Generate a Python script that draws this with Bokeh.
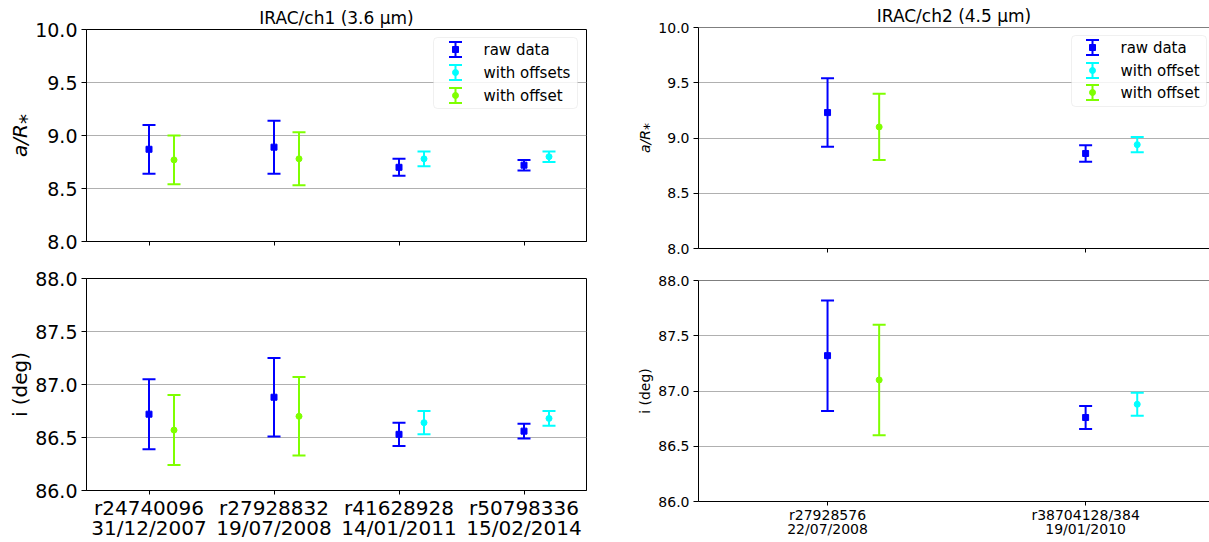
from bokeh.plotting import figure
from bokeh.models import (ColumnDataSource, Whisker, TeeHead, FixedTicker,
                          NumeralTickFormatter, Span, BoxAnnotation, Range1d,
                          Title)
from bokeh.layouts import row, column
from bokeh.embed import file_html
from bokeh.resources import INLINE
from bokeh.core.properties import value

# ---------------- data ----------------
ch1_labels = ["r24740096\n31/12/2007", "r27928832\n19/07/2008",
              "r41628928\n14/01/2011", "r50798336\n15/02/2014"]
ch1_aR_raw = [8.87, 8.89, 8.70, 8.72]
ch1_aR_raw_err = [0.23, 0.25, 0.08, 0.05]
ch1_aR_offset_idx = [0, 1]
ch1_aR_offset = [8.77, 8.78]
ch1_aR_offset_err = [0.23, 0.25]
ch1_aR_offsets_idx = [2, 3]
ch1_aR_offsets = [8.78, 8.80]
ch1_aR_offsets_err = [0.07, 0.05]

ch1_inc_raw = [86.72, 86.88, 86.53, 86.56]
ch1_inc_raw_err = [0.33, 0.37, 0.11, 0.07]
ch1_inc_offset = [86.57, 86.70]
ch1_inc_offset_err = [0.33, 0.37]
ch1_inc_offsets = [86.64, 86.68]
ch1_inc_offsets_err = [0.11, 0.07]

ch2_labels = ["r27928576\n22/07/2008", "r38704128/384\n19/01/2010"]
ch2_aR_raw = [9.23, 8.86]
ch2_aR_raw_err = [0.31, 0.075]
ch2_aR_green_idx = [0]
ch2_aR_green = [9.10]
ch2_aR_green_err = [0.30]
ch2_aR_cyan_idx = [1]
ch2_aR_cyan = [8.94]
ch2_aR_cyan_err = [0.07]

ch2_inc_raw = [87.32, 86.76]
ch2_inc_raw_err = [0.50, 0.105]
ch2_inc_green = [87.10]
ch2_inc_green_err = [0.50]
ch2_inc_cyan = [86.88]
ch2_inc_cyan_err = [0.105]

aR_ticks = [8.0, 8.5, 9.0, 9.5, 10.0]
inc_ticks = [86.0, 86.5, 87.0, 87.5, 88.0]

ch1_title = "IRAC/ch1 (3.6 \u03bcm)"
ch2_title = "IRAC/ch2 (4.5 \u03bcm)"

# ---------------- style ----------------
FONT = "DejaVu Sans"
BLUE = "#0000ff"
CYAN = "#00ffff"
GREEN = "#7fff00"
OFFSET = 0.2

GEOM = {}


def make_fig(width, height, bl, br, bt, bb, xr, yr, yticks, xticks, xlabels,
             tick_fs, label_fs, ylabel, title=None, outline=True,
             show_xlabels=True, xlab_fs="14px", label_standoff=4,
             line_h=0.95, xl_standoff=3):
    kw = {}
    if title:
        kw["title"] = Title(text=title, text_font=FONT, text_font_size="17px",
                            text_font_style="normal", align="center",
                            text_color="black", standoff=3, offset=0)
    p = figure(width=width, height=height, x_range=Range1d(*xr),
               y_range=Range1d(*yr), output_backend="svg",
               toolbar_location=None, min_border_left=bl,
               min_border_right=br, min_border_top=bt, min_border_bottom=bb,
               **kw)
    GEOM[p.id] = dict(bl=bl, bt=bt, fw=width - bl - br, fh=height - bt - bb,
                      xr=xr, yr=yr)
    p.outline_line_color = "black" if outline else None
    p.outline_line_width = 1
    p.xgrid.visible = False
    p.ygrid.ticker = FixedTicker(ticks=yticks)
    p.ygrid.grid_line_color = "#b0b0b0"
    p.ygrid.grid_line_width = 1
    p.background_fill_color = "white"
    p.border_fill_color = "white"

    ya = p.yaxis[0]
    ya.ticker = FixedTicker(ticks=yticks)
    ya.formatter = NumeralTickFormatter(format="0.0")
    ya.major_label_text_font = FONT
    ya.major_label_text_font_size = tick_fs
    ya.major_label_text_color = "black"
    ya.major_label_standoff = 4
    ya.major_tick_in = 0
    ya.major_tick_out = 5
    ya.minor_tick_line_color = None
    ya.axis_line_color = "black"
    ya.major_tick_line_color = "black"
    ya.axis_label = ylabel
    ya.axis_label_text_font = FONT
    ya.axis_label_text_font_size = label_fs
    ya.axis_label_text_font_style = "italic" if ylabel.startswith("a") else "normal"
    ya.axis_label_text_color = "black"
    ya.axis_label_standoff = label_standoff

    xa = p.xaxis[0]
    xa.ticker = FixedTicker(ticks=xticks)
    xa.major_tick_in = 0
    xa.major_tick_out = 4
    xa.minor_tick_line_color = None
    xa.axis_line_color = "black"
    xa.major_tick_line_color = "black"
    if show_xlabels:
        xa.major_label_overrides = {t: l for t, l in zip(xticks, xlabels)}
        xa.major_label_text_font = FONT
        xa.major_label_text_font_size = xlab_fs
        xa.major_label_text_color = "black"
        xa.major_label_text_line_height = line_h
        xa.major_label_standoff = xl_standoff
    else:
        xa.major_label_overrides = {t: "" for t in xticks}
        xa.major_label_text_font_size = "1px"
        xa.major_label_standoff = 0
    if not outline:
        p.add_layout(Span(location=yr[1], dimension="width",
                          line_color="black", line_width=1))
        if not show_xlabels:
            p.add_layout(Span(location=yr[0], dimension="width",
                              line_color="black", line_width=1))
    return p


def px2data(p, sx, sy):
    g = GEOM[p.id]
    x = g["xr"][0] + (sx - g["bl"]) / g["fw"] * (g["xr"][1] - g["xr"][0])
    y = g["yr"][1] - (sy - g["bt"]) / g["fh"] * (g["yr"][1] - g["yr"][0])
    return x, y


def errorbars(p, xs, ys, errs, color, marker, cap=13):
    src = ColumnDataSource(dict(x=xs, y=ys,
                                upper=[y + e for y, e in zip(ys, errs)],
                                lower=[y - e for y, e in zip(ys, errs)]))
    w = Whisker(source=src, base="x", upper="upper", lower="lower",
                dimension="height", line_color=color, line_width=2,
                upper_head=TeeHead(size=cap, line_color=color, line_width=2),
                lower_head=TeeHead(size=cap, line_color=color, line_width=2))
    p.add_layout(w)
    p.scatter("x", "y", source=src, marker=marker, size=6, color=color)


def legend(p, box, rows, gx, tx, entries):
    x0, y0 = px2data(p, box[0], box[1])
    x1, y1 = px2data(p, box[2], box[3])
    b = BoxAnnotation(left=x0, right=x1, top=y0, bottom=y1,
                      fill_color="white", fill_alpha=0.85,
                      line_color="#cccccc", line_width=1, border_radius=4,
                      level="underlay")
    p.add_layout(b)
    for sy, (label, color, marker) in zip(rows, entries):
        gxd, gyd = px2data(p, gx, sy)
        _, top = px2data(p, gx, sy - 7.5)
        _, bot = px2data(p, gx, sy + 7.5)
        src = ColumnDataSource(dict(x=[gxd], y=[gyd], upper=[top], lower=[bot]))
        p.add_layout(Whisker(source=src, base="x", upper="upper", lower="lower",
                             dimension="height", line_color=color, line_width=2,
                             upper_head=TeeHead(size=13, line_color=color, line_width=2),
                             lower_head=TeeHead(size=13, line_color=color, line_width=2)))
        p.scatter("x", "y", source=src, marker=marker, size=6, color=color)
        txd, tyd = px2data(p, tx, sy)
        p.text(x=[txd], y=[tyd], text=[label], text_font=value(FONT),
               text_font_size="15px", text_baseline="middle",
               text_align="left", text_color="black")


ch1_x = list(range(len(ch1_labels)))
ch2_x = list(range(len(ch2_labels)))

# ---------------- ch1 ----------------
lt = make_fig(606, 260, 86, 20, 29, 19, (-0.5, 3.5), (8.0, 10.0), aR_ticks,
              ch1_x, ch1_labels, "19px", "20px", "a/R\u204e",
              title=ch1_title, show_xlabels=False, label_standoff=0)
errorbars(lt, ch1_x, ch1_aR_raw, ch1_aR_raw_err, BLUE, "square")
errorbars(lt, [ch1_x[i] + OFFSET for i in ch1_aR_offsets_idx], ch1_aR_offsets,
          ch1_aR_offsets_err, CYAN, "circle")
errorbars(lt, [ch1_x[i] + OFFSET for i in ch1_aR_offset_idx], ch1_aR_offset,
          ch1_aR_offset_err, GREEN, "circle")
legend(lt, (433, 37, 577, 108), [49, 72, 95], 455, 483,
       [("raw data", BLUE, "square"), ("with offsets", CYAN, "circle"),
        ("with offset", GREEN, "circle")])

lb = make_fig(606, 282, 86, 20, 18, 52, (-0.5, 3.5), (86.0, 88.0), inc_ticks,
              ch1_x, ch1_labels, "19px", "20px", "i (deg)", xlab_fs="20px",
              label_standoff=0, line_h=0.84, xl_standoff=1)
errorbars(lb, ch1_x, ch1_inc_raw, ch1_inc_raw_err, BLUE, "square")
errorbars(lb, [ch1_x[i] + OFFSET for i in ch1_aR_offsets_idx], ch1_inc_offsets,
          ch1_inc_offsets_err, CYAN, "circle")
errorbars(lb, [ch1_x[i] + OFFSET for i in ch1_aR_offset_idx], ch1_inc_offset,
          ch1_inc_offset_err, GREEN, "circle")

# ---------------- ch2 ----------------
rt = make_fig(603, 264, 92, 0, 27, 16, (-0.5, 1.48), (8.0, 10.0), aR_ticks,
              ch2_x, ch2_labels, "14px", "14px", "a/R\u204e",
              title=ch2_title, outline=False, show_xlabels=False,
              label_standoff=2)
errorbars(rt, ch2_x, ch2_aR_raw, ch2_aR_raw_err, BLUE, "square")
errorbars(rt, [ch2_x[i] + OFFSET for i in ch2_aR_green_idx], ch2_aR_green,
          ch2_aR_green_err, GREEN, "circle")
errorbars(rt, [ch2_x[i] + OFFSET for i in ch2_aR_cyan_idx], ch2_aR_cyan,
          ch2_aR_cyan_err, CYAN, "circle")
legend(rt, (465, 35, 600, 106), [47, 70, 92], 486, 514,
       [("raw data", BLUE, "square"), ("with offset", CYAN, "circle"),
        ("with offset", GREEN, "circle")])

rb = make_fig(603, 278, 92, 0, 16, 41, (-0.5, 1.48), (86.0, 88.0), inc_ticks,
              ch2_x, ch2_labels, "14px", "14px", "i (deg)", outline=False,
              xlab_fs="14px", label_standoff=2, line_h=0.9, xl_standoff=1)
errorbars(rb, ch2_x, ch2_inc_raw, ch2_inc_raw_err, BLUE, "square")
errorbars(rb, [ch2_x[i] + OFFSET for i in ch2_aR_green_idx], ch2_inc_green,
          ch2_inc_green_err, GREEN, "circle")
errorbars(rb, [ch2_x[i] + OFFSET for i in ch2_aR_cyan_idx], ch2_inc_cyan,
          ch2_inc_cyan_err, CYAN, "circle")

layout = row(column(lt, lb), column(rt, rb))
open("out.html", "w").write(file_html(layout, INLINE))
